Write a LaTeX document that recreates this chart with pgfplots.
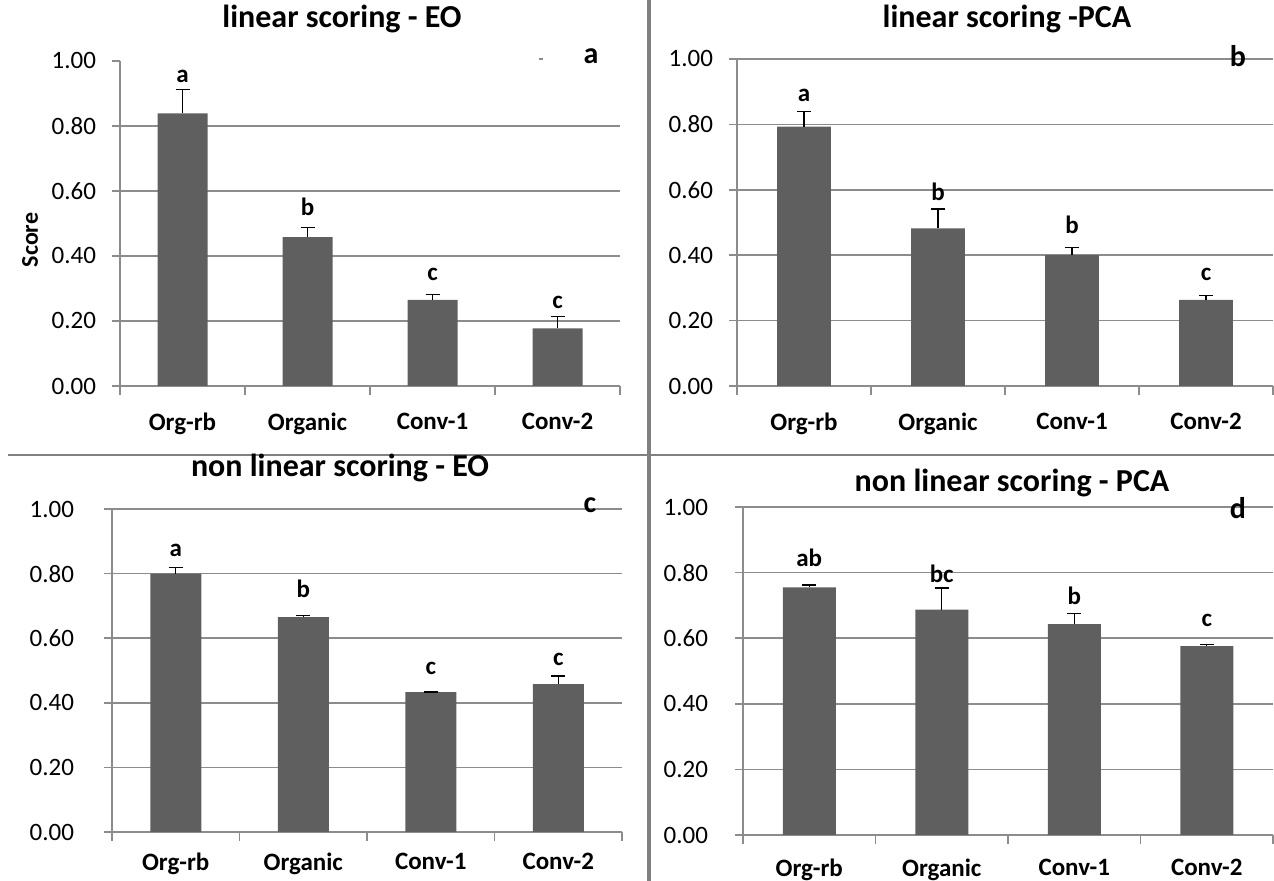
\documentclass[border=0pt]{standalone}
\usepackage{pgfplots}
\pgfplotsset{compat=1.18}
\usepackage{fontspec}
\setmainfont{Carlito}
\definecolor{barc}{HTML}{5F5F5F}
\definecolor{gridc}{HTML}{8C8C8C}
\definecolor{sepc}{HTML}{808080}

\pgfplotsset{
  panel/.style={
    scale only axis,
    xmin=-0.5, xmax=3.5, ymin=0, ymax=1,
    axis x line*=bottom, axis y line*=left,
    axis line style={gridc, line width=0.8pt},
    ymajorgrids, grid style={gridc, line width=0.8pt},
    xtick={0,1,2,3},
    xticklabels={Org-rb,Organic,Conv-1,Conv-2},
    minor xtick={-0.5,0.5,1.5,2.5,3.5},
    tick align=outside,
    major tick length=4pt, minor tick length=4.5pt,
    major x tick style={draw=none},
    minor x tick style={gridc, line width=0.8pt},
    ytick style={gridc, line width=0.8pt},
    yticklabel style={font=\fontsize{12.5}{13}\selectfont, text=black, xshift=-4.5pt},
    xticklabel style={font=\bfseries\fontsize{12.5}{13}\selectfont, text=black, yshift=-6pt},
  },
  fullgrid/.style={
    ytick={0,0.2,0.4,0.6,0.8,1},
    yticklabels={0.00,0.20,0.40,0.60,0.80,1.00},
  },
  bars/.style={
    ybar, bar width=0.4, fill=barc, draw=none,
    error bars/.cd, y dir=plus, y explicit,
    error mark=|,
    error bar style={black, line width=0.7pt},
    error mark options={black, line width=0.7pt, mark size=3.5pt},
  },
  letters/.style={
    draw=none, mark=none, forget plot,
    nodes near coords, point meta=explicit symbolic,
    nodes near coords style={anchor=south, inner sep=0pt, text=black,
      font=\bfseries\fontsize{12.5}{13}\selectfont},
  },
}

\begin{document}
\begin{tikzpicture}
% separators
\draw[sepc, line width=2pt] (324.5pt,0pt) -- (324.5pt,440.5pt);
\draw[sepc, line width=1pt] (4pt,213pt) -- (637pt,213pt);

% panel a
\begin{axis}[panel, at={(60pt,247.5pt)}, anchor=south west,
  width=250pt, height=162.5pt,
  ytick={0,0.2,0.4,0.6,0.8},
  yticklabels={0.00,0.20,0.40,0.60,0.80},
  extra y ticks={1}, extra y tick labels={1.00},
  extra y tick style={ymajorgrids=false}]
\addplot[bars] table[x=x, y=y, y error=e] {
x y e
0 0.839 0.074
1 0.458 0.029
2 0.265 0.017
3 0.177 0.036
};
\addplot[letters] table[x=x, y=y, meta=l] {
x y l
0 0.933 a
1 0.523 b
2 0.323 c
3 0.236 c
};
\end{axis}

% panel b
\begin{axis}[panel, fullgrid, at={(368.5pt,247.5pt)}, anchor=south west,
  width=268pt, height=163.5pt]
\addplot[bars] table[x=x, y=y, y error=e] {
x y e
0 0.793 0.047
1 0.482 0.059
2 0.400 0.023
3 0.263 0.013
};
\addplot[letters] table[x=x, y=y, meta=l] {
x y l
0 0.867 a
1 0.566 b
2 0.464 b
3 0.321 c
};
\end{axis}

% panel c
\begin{axis}[panel, fullgrid, at={(56pt,24.5pt)}, anchor=south west,
  width=255pt, height=161.5pt,
  yticklabel style={xshift=-7pt},
  xticklabel style={yshift=3pt}]
\addplot[bars] table[x=x, y=y, y error=e] {
x y e
0 0.800 0.018
1 0.665 0.005
2 0.433 0.001
3 0.458 0.025
};
\addplot[letters] table[x=x, y=y, meta=l] {
x y l
0 0.851 a
1 0.723 b
2 0.487 c
3 0.513 c
};
\end{axis}

% panel d
\begin{axis}[panel, fullgrid, at={(371.5pt,23pt)}, anchor=south west,
  width=265pt, height=164pt,
  yticklabel style={xshift=-5.5pt},
  xticklabel style={yshift=1.5pt}]
\addplot[bars] table[x=x, y=y, y error=e] {
x y e
0 0.755 0.007
1 0.687 0.066
2 0.643 0.033
3 0.576 0.005
};
\addplot[letters] table[x=x, y=y, meta=l] {
x y l
0 0.818 ab
1 0.767 bc
2 0.701 b
3 0.635 c
};
\end{axis}

% titles
\node[font=\bfseries\fontsize{16}{17}\selectfont] at (171pt,431pt) {linear scoring - EO};
\node[font=\bfseries\fontsize{16}{17}\selectfont] at (503.5pt,431pt) {linear scoring -PCA};
\node[font=\bfseries\fontsize{16}{17}\selectfont] at (170pt,206.5pt) {non linear scoring - EO};
\node[font=\bfseries\fontsize{16}{17}\selectfont] at (506pt,199pt) {non linear scoring - PCA};
% panel letters
\node[font=\bfseries\fontsize{15}{16}\selectfont] at (295.5pt,412.5pt) {a};
\node[font=\bfseries\fontsize{15}{16}\selectfont] at (619pt,412.5pt) {b};
\node[font=\bfseries\fontsize{15}{16}\selectfont] at (295pt,188pt) {c};
\node[font=\bfseries\fontsize{15}{16}\selectfont] at (619pt,186.5pt) {d};
% y label
\node[rotate=90, font=\bfseries\fontsize{12}{13}\selectfont] at (15pt,320.5pt) {Score};
% stray dash
\draw[gridc, line width=0.6pt] (269.5pt,411pt) -- (271.5pt,411pt);

\pgfresetboundingbox
\useasboundingbox (0,0) rectangle (637pt,440.5pt);
\end{tikzpicture}
\end{document}
